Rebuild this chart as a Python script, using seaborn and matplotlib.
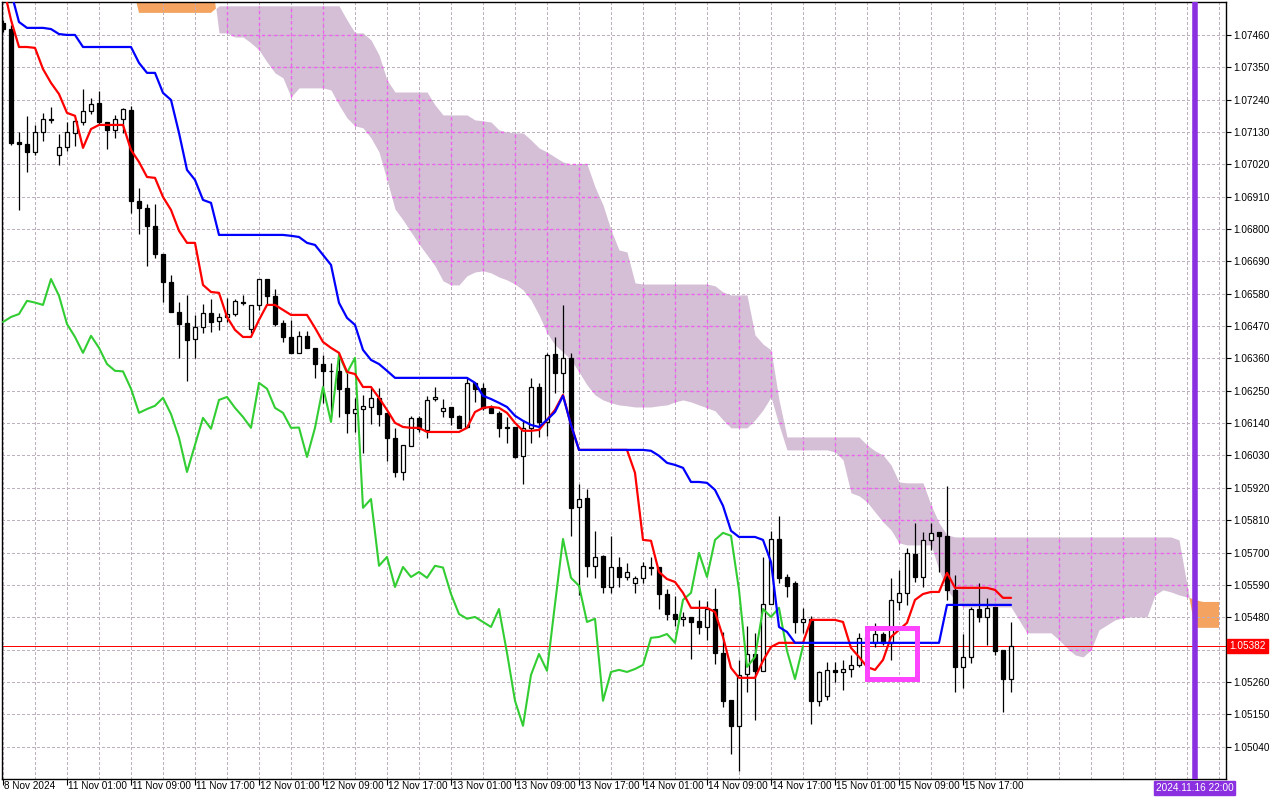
import numpy as np
import matplotlib
matplotlib.use("Agg")
import matplotlib.pyplot as plt
import matplotlib.transforms as mtransforms
from matplotlib.patches import Rectangle
import seaborn as sns

# ---------------- data (hourly bars, 8 Nov 17:00 .. 15 Nov 23:00) ----------------
opens = [1.07501, 1.07480, 1.07096, 1.07089, 1.07062, 1.07130, 1.07171, 1.07052, 1.07079, 1.07127,
         1.07164, 1.07202, 1.07229, 1.07164, 1.07137, 1.07174, 1.07205, 1.06896, 1.06872, 1.06811,
         1.06715, 1.06620, 1.06518, 1.06481, 1.06426, 1.06467, 1.06515, 1.06488, 1.06501, 1.06511,
         1.06552, 1.06460, 1.06542, 1.06630, 1.06573, 1.06481, 1.06433, 1.06379, 1.06437, 1.06396,
         1.06341, 1.06318, 1.06318, 1.06260, 1.06175, 1.06188, 1.06195, 1.06226, 1.06175, 1.06090,
         1.05974, 1.06063, 1.06158, 1.06117, 1.06222, 1.06182, 1.06195, 1.06165, 1.06127, 1.06277,
         1.06260, 1.06192, 1.06175, 1.06127, 1.06127, 1.06029, 1.06124, 1.06263, 1.06144, 1.06375,
         1.06311, 1.06362, 1.05855, 1.05886, 1.05655, 1.05689, 1.05583, 1.05651, 1.05617, 1.05597,
         1.05614, 1.05651, 1.05651, 1.05559, 1.05491, 1.05475, 1.05481, 1.05468, 1.05447, 1.05508,
         1.05359, 1.05199, 1.05111, 1.05287, 1.05355, 1.05298, 1.05525, 1.05746, 1.05617, 1.05597,
         1.05464, 1.05475, 1.05196, 1.05213, 1.05301, 1.05294, 1.05304, 1.05318, 1.05403, 1.05393,
         1.05423, 1.05393, 1.05532, 1.05563, 1.05695, 1.05617, 1.05743, 1.05770, 1.05757, 1.05573,
         1.05311, 1.05345, 1.05508, 1.05481, 1.05515, 1.05369, 1.05270]
highs = [1.07511, 1.07494, 1.07130, 1.07185, 1.07154, 1.07195, 1.07215, 1.07123, 1.07164, 1.07174,
         1.07276, 1.07246, 1.07270, 1.07164, 1.07188, 1.07212, 1.07219, 1.06940, 1.06885, 1.06885,
         1.06715, 1.06644, 1.06552, 1.06576, 1.06508, 1.06545, 1.06562, 1.06515, 1.06566, 1.06562,
         1.06576, 1.06542, 1.06630, 1.06630, 1.06596, 1.06491, 1.06491, 1.06454, 1.06454, 1.06396,
         1.06372, 1.06345, 1.06375, 1.06311, 1.06226, 1.06236, 1.06260, 1.06260, 1.06175, 1.06124,
         1.06066, 1.06165, 1.06165, 1.06233, 1.06263, 1.06222, 1.06195, 1.06168, 1.06297, 1.06280,
         1.06277, 1.06202, 1.06182, 1.06161, 1.06127, 1.06151, 1.06294, 1.06277, 1.06379, 1.06433,
         1.06542, 1.06379, 1.05933, 1.05916, 1.05774, 1.05692, 1.05757, 1.05685, 1.05665, 1.05621,
         1.05668, 1.05685, 1.05651, 1.05576, 1.05553, 1.05498, 1.05481, 1.05539, 1.05536, 1.05580,
         1.05430, 1.05199, 1.05335, 1.05451, 1.05427, 1.05685, 1.05774, 1.05825, 1.05627, 1.05604,
         1.05512, 1.05485, 1.05298, 1.05328, 1.05328, 1.05335, 1.05352, 1.05427, 1.05437, 1.05461,
         1.05430, 1.05614, 1.05641, 1.05716, 1.05801, 1.05770, 1.05801, 1.05770, 1.05927, 1.05624,
         1.05423, 1.05515, 1.05597, 1.05546, 1.05515, 1.05369, 1.05464]
lows = [1.07470, 1.07086, 1.06865, 1.06994, 1.07052, 1.07100, 1.07161, 1.07018, 1.07066, 1.07083,
        1.07154, 1.07191, 1.07154, 1.07072, 1.07110, 1.07127, 1.06855, 1.06783, 1.06675, 1.06702,
        1.06552, 1.06518, 1.06362, 1.06284, 1.06362, 1.06447, 1.06450, 1.06457, 1.06484, 1.06505,
        1.06542, 1.06447, 1.06525, 1.06542, 1.06471, 1.06416, 1.06379, 1.06379, 1.06396, 1.06294,
        1.06209, 1.06161, 1.06161, 1.06107, 1.06110, 1.06039, 1.06137, 1.06131, 1.06012, 1.05957,
        1.05947, 1.06063, 1.06110, 1.06090, 1.06216, 1.06161, 1.06134, 1.06124, 1.06127, 1.06212,
        1.06185, 1.06175, 1.06093, 1.06073, 1.06022, 1.05933, 1.06073, 1.06093, 1.06097, 1.06243,
        1.06243, 1.05757, 1.05556, 1.05617, 1.05614, 1.05563, 1.05563, 1.05583, 1.05607, 1.05563,
        1.05597, 1.05624, 1.05508, 1.05471, 1.05451, 1.05451, 1.05338, 1.05423, 1.05403, 1.05321,
        1.05175, 1.05015, 1.04958, 1.05226, 1.05131, 1.05298, 1.05525, 1.05597, 1.05549, 1.05427,
        1.05427, 1.05117, 1.05179, 1.05199, 1.05260, 1.05233, 1.05277, 1.05311, 1.05386, 1.05379,
        1.05386, 1.05335, 1.05505, 1.05522, 1.05600, 1.05583, 1.05709, 1.05634, 1.05539, 1.05226,
        1.05240, 1.05325, 1.05464, 1.05386, 1.05352, 1.05158, 1.05226]
closes = [1.07480, 1.07093, 1.07089, 1.07062, 1.07130, 1.07174, 1.07174, 1.07079, 1.07130, 1.07168,
          1.07202, 1.07225, 1.07164, 1.07137, 1.07174, 1.07208, 1.06896, 1.06872, 1.06811, 1.06715,
          1.06620, 1.06518, 1.06477, 1.06423, 1.06467, 1.06515, 1.06484, 1.06501, 1.06511, 1.06556,
          1.06550, 1.06542, 1.06630, 1.06573, 1.06477, 1.06433, 1.06379, 1.06437, 1.06396, 1.06341,
          1.06318, 1.06316, 1.06257, 1.06175, 1.06188, 1.06199, 1.06226, 1.06171, 1.06090, 1.05974,
          1.06066, 1.06158, 1.06121, 1.06219, 1.06229, 1.06192, 1.06161, 1.06124, 1.06277, 1.06257,
          1.06192, 1.06175, 1.06124, 1.06125, 1.06025, 1.06124, 1.06263, 1.06144, 1.06372, 1.06311,
          1.06362, 1.05852, 1.05882, 1.05655, 1.05685, 1.05583, 1.05651, 1.05617, 1.05634, 1.05614,
          1.05655, 1.05649, 1.05559, 1.05491, 1.05475, 1.05481, 1.05464, 1.05447, 1.05508, 1.05359,
          1.05196, 1.05111, 1.05284, 1.05355, 1.05298, 1.05525, 1.05746, 1.05614, 1.05587, 1.05464,
          1.05475, 1.05196, 1.05294, 1.05301, 1.05294, 1.05304, 1.05318, 1.05410, 1.05413, 1.05423,
          1.05393, 1.05539, 1.05563, 1.05699, 1.05617, 1.05743, 1.05767, 1.05757, 1.05573, 1.05311,
          1.05345, 1.05508, 1.05481, 1.05512, 1.05366, 1.05270, 1.05382]

tenkan = [1.07630, 1.07511, 1.07419, 1.07419, 1.07416, 1.07344, 1.07297, 1.07259, 1.07195, 1.07185,
          1.07076, 1.07140, 1.07154, 1.07154, 1.07154, 1.07154, 1.07069, 1.07028, 1.06977, 1.06974,
          1.06909, 1.06865, 1.06794, 1.06753, 1.06753, 1.06610, 1.06586, 1.06583, 1.06501, 1.06457,
          1.06433, 1.06433, 1.06491, 1.06542, 1.06542, 1.06525, 1.06508, 1.06508, 1.06508, 1.06464,
          1.06416, 1.06396, 1.06379, 1.06314, 1.06307, 1.06263, 1.06263, 1.06226, 1.06185, 1.06141,
          1.06127, 1.06124, 1.06124, 1.06110, 1.06110, 1.06110, 1.06110, 1.06110, 1.06124, 1.06178,
          1.06192, 1.06195, 1.06192, 1.06175, 1.06141, 1.06114, 1.06114, 1.06117, 1.06151, 1.06185,
          1.06236, 1.06134, 1.06049, 1.06049, 1.06049, 1.06049, 1.06049, 1.06049, 1.06049, 1.05971,
          1.05743, 1.05740, 1.05634, 1.05610, 1.05600, 1.05563, 1.05512, 1.05512, 1.05512, 1.05498,
          1.05413, 1.05308, 1.05274, 1.05274, 1.05274, 1.05332, 1.05379, 1.05393, 1.05393, 1.05393,
          1.05393, 1.05471, 1.05471, 1.05471, 1.05471, 1.05464, 1.05376, 1.05345, 1.05311, 1.05301,
          1.05335, 1.05413, 1.05437, 1.05461, 1.05539, 1.05559, 1.05566, 1.05566, 1.05631, 1.05580,
          1.05580, 1.05580, 1.05580, 1.05580, 1.05573, 1.05546, 1.05546]
kijun = [1.07647, 1.07606, 1.07504, 1.07484, 1.07484, 1.07484, 1.07480, 1.07463, 1.07460, 1.07460,
         1.07419, 1.07419, 1.07419, 1.07419, 1.07419, 1.07419, 1.07419, 1.07365, 1.07331, 1.07331,
         1.07263, 1.07239, 1.07127, 1.07001, 1.06967, 1.06899, 1.06889, 1.06780, 1.06780, 1.06780,
         1.06780, 1.06780, 1.06780, 1.06780, 1.06780, 1.06780, 1.06777, 1.06773, 1.06753, 1.06746,
         1.06712, 1.06678, 1.06549, 1.06498, 1.06474, 1.06389, 1.06355, 1.06341, 1.06318, 1.06294,
         1.06294, 1.06294, 1.06294, 1.06294, 1.06294, 1.06294, 1.06294, 1.06294, 1.06294, 1.06277,
         1.06233, 1.06222, 1.06209, 1.06195, 1.06165, 1.06148, 1.06134, 1.06127, 1.06151, 1.06178,
         1.06233, 1.06134, 1.06049, 1.06049, 1.06049, 1.06049, 1.06049, 1.06049, 1.06049, 1.06049,
         1.06049, 1.06046, 1.06029, 1.06005, 1.05998, 1.05988, 1.05940, 1.05940, 1.05937, 1.05913,
         1.05859, 1.05774, 1.05753, 1.05753, 1.05753, 1.05743, 1.05668, 1.05447, 1.05430, 1.05393,
         1.05393, 1.05393, 1.05393, 1.05393, 1.05393, 1.05393, 1.05393, 1.05393, 1.05393, 1.05393,
         1.05393, 1.05393, 1.05393, 1.05393, 1.05393, 1.05393, 1.05393, 1.05393, 1.05522, 1.05522,
         1.05522, 1.05522, 1.05522, 1.05522, 1.05522, 1.05522, 1.05522]

# Senkou spans, already shifted 26 bars forward (153 positions)
span_a = [1.07681, 1.07681, 1.07681, 1.07681, 1.07681, 1.07681, 1.07681, 1.07681, 1.07681, 1.07681,
          1.07681, 1.07681, 1.07681, 1.07681, 1.07681, 1.07681, 1.07681, 1.07681, 1.07681, 1.07681,
          1.07681, 1.07681, 1.07681, 1.07681, 1.07681, 1.07681, 1.07681, 1.07467, 1.07467, 1.07453,
          1.07453, 1.07433, 1.07409, 1.07368, 1.07331, 1.07314, 1.07249, 1.07280, 1.07280, 1.07280,
          1.07280, 1.07273, 1.07222, 1.07178, 1.07151, 1.07144, 1.07110, 1.07062, 1.06967, 1.06868,
          1.06831, 1.06790, 1.06749, 1.06712, 1.06675, 1.06624, 1.06610, 1.06610, 1.06641, 1.06654,
          1.06658, 1.06651, 1.06637, 1.06627, 1.06613, 1.06593, 1.06559, 1.06508, 1.06447, 1.06406,
          1.06382, 1.06355, 1.06314, 1.06270, 1.06236, 1.06219, 1.06209, 1.06202, 1.06199, 1.06195,
          1.06195, 1.06195, 1.06199, 1.06202, 1.06212, 1.06219, 1.06212, 1.06202, 1.06192, 1.06182,
          1.06151, 1.06124, 1.06124, 1.06124, 1.06151, 1.06185, 1.06229, 1.06134, 1.06049, 1.06049,
          1.06049, 1.06049, 1.06049, 1.06049, 1.06042, 1.06015, 1.05903, 1.05893, 1.05872, 1.05838,
          1.05804, 1.05777, 1.05733, 1.05726, 1.05726, 1.05726, 1.05726, 1.05641, 1.05573, 1.05539,
          1.05515, 1.05515, 1.05515, 1.05515, 1.05515, 1.05515, 1.05515, 1.05471, 1.05427, 1.05427,
          1.05427, 1.05427, 1.05403, 1.05376, 1.05352, 1.05345, 1.05369, 1.05437, 1.05454, 1.05471,
          1.05478, 1.05481, 1.05481, 1.05481, 1.05556, 1.05573, 1.05566, 1.05556, 1.05549, 1.05539,
          1.05532, 1.05532, 1.05532]
span_b = [1.07647, 1.07647, 1.07647, 1.07647, 1.07647, 1.07647, 1.07647, 1.07647, 1.07647, 1.07647,
          1.07647, 1.07647, 1.07647, 1.07647, 1.07647, 1.07647, 1.07647, 1.07535, 1.07535, 1.07535,
          1.07535, 1.07535, 1.07535, 1.07535, 1.07535, 1.07535, 1.07535, 1.07559, 1.07559, 1.07559,
          1.07559, 1.07559, 1.07559, 1.07559, 1.07559, 1.07559, 1.07559, 1.07559, 1.07559, 1.07559,
          1.07559, 1.07559, 1.07559, 1.07511, 1.07467, 1.07467, 1.07443, 1.07392, 1.07307, 1.07266,
          1.07266, 1.07266, 1.07266, 1.07266, 1.07222, 1.07188, 1.07188, 1.07188, 1.07188, 1.07171,
          1.07168, 1.07164, 1.07137, 1.07130, 1.07127, 1.07127, 1.07103, 1.07076, 1.07062, 1.07045,
          1.07028, 1.07021, 1.07021, 1.07021, 1.06943, 1.06882, 1.06797, 1.06729, 1.06722, 1.06617,
          1.06613, 1.06613, 1.06613, 1.06613, 1.06613, 1.06613, 1.06613, 1.06613, 1.06613, 1.06607,
          1.06586, 1.06576, 1.06576, 1.06576, 1.06440, 1.06409, 1.06389, 1.06219, 1.06093, 1.06093,
          1.06093, 1.06093, 1.06093, 1.06093, 1.06093, 1.06093, 1.06093, 1.06093, 1.06066, 1.06046,
          1.06032, 1.05998, 1.05940, 1.05937, 1.05937, 1.05937, 1.05862, 1.05801, 1.05760, 1.05753,
          1.05753, 1.05753, 1.05753, 1.05753, 1.05753, 1.05753, 1.05753, 1.05753, 1.05753, 1.05753,
          1.05753, 1.05753, 1.05753, 1.05753, 1.05753, 1.05753, 1.05753, 1.05753, 1.05753, 1.05753,
          1.05753, 1.05753, 1.05753, 1.05753, 1.05753, 1.05753, 1.05753, 1.05743, 1.05590, 1.05444,
          1.05444, 1.05444, 1.05444]

date_tick_bars = [0, 8, 16, 24, 32, 40, 48, 56, 64, 72, 80, 88, 96, 104, 112, 120]
date_tick_labels = ["8 Nov 2024", "11 Nov 01:00", "11 Nov 09:00", "11 Nov 17:00", "12 Nov 01:00",
                    "12 Nov 09:00", "12 Nov 17:00", "13 Nov 01:00", "13 Nov 09:00", "13 Nov 17:00",
                    "14 Nov 01:00", "14 Nov 09:00", "14 Nov 17:00", "15 Nov 01:00", "15 Nov 09:00",
                    "15 Nov 17:00"]
price_ticks = [1.07460, 1.07350, 1.07240, 1.07130, 1.07020, 1.06910, 1.06800, 1.06690, 1.06580,
               1.06470, 1.06360, 1.06250, 1.06140, 1.06030, 1.05920, 1.05810, 1.05700, 1.05590,
               1.05480, 1.05370, 1.05260, 1.05150, 1.05040]
current_price = 1.05382
current_price_label = "1.05382"
vline_label = "2024.11.16 22:00"
chikou_shift = 26

# ---------------- styling ----------------
sns.set_style("white")
plt.rcParams['font.family'] = ['Liberation Sans', 'DejaVu Sans']

W, H = 1280, 800
fig = plt.figure(figsize=(W / 100, H / 100), dpi=100)
ax = fig.add_axes([2 / W, 21 / H, 1224 / W, 777 / H])

n = len(opens)
idx = np.arange(n)
o = np.array(opens); c = np.array(closes); hi = np.array(highs); lo = np.array(lows)
xc = np.arange(len(span_a))
sa = np.array(span_a); sb = np.array(span_b)

PINK = "#d4bfd6"
ORANGE = "#f4a460"
GRID = "#bfb0bf"
GRID_IN_CLOUD = "#f060f0"
dash = (0, (3, 3))

# cloud
ax.fill_between(xc, sa, sb, where=sb >= sa, interpolate=True, color=PINK, lw=0, zorder=0.5)
ax.fill_between(xc, sa, sb, where=sa > sb, interpolate=True, color=ORANGE, lw=0, zorder=0.5)

# plain dashed grid
grid_x = np.arange(0, len(span_a) + 1, 4)
for gx in grid_x:
    ax.axvline(gx, color=GRID, lw=0.7, ls=dash, zorder=0.8, antialiased=False)
for gy in price_ticks:
    ax.axhline(gy, color=GRID, lw=0.7, ls=dash, zorder=0.8, antialiased=False)

# grid segments crossing the (bearish) cloud appear magenta
xf = np.linspace(0, len(xc) - 1, 6000)
saf = np.interp(xf, xc, sa)
sbf = np.interp(xf, xc, sb)
for gy in price_ticks:
    inside = (saf <= gy) & (sbf >= gy)
    if not inside.any():
        continue
    d = np.diff(np.concatenate([[0], inside.astype(int), [0]]))
    starts = np.where(d == 1)[0]
    ends = np.where(d == -1)[0] - 1
    for s_, e_ in zip(starts, ends):
        ax.plot([xf[s_], xf[e_]], [gy, gy], color=GRID_IN_CLOUD, lw=1.0, ls=(0, (2.2, 2.2)),
                zorder=0.9, solid_capstyle="butt", dash_capstyle="butt")
for gx in grid_x:
    if gx < len(xc) and sb[gx] > sa[gx]:
        ax.plot([gx, gx], [sa[gx], sb[gx]], color=GRID_IN_CLOUD, lw=1.0, ls=(0, (2.2, 2.2)),
                zorder=0.9, solid_capstyle="butt", dash_capstyle="butt")

# current price line
ax.axhline(current_price, color="red", lw=0.7, zorder=1.0, antialiased=False)

# candles
ax.vlines(idx, lo, hi, color="black", lw=0.9, zorder=2)
bull = c >= o
body_h = np.maximum(np.abs(c - o), 0.000012)
body_b = np.minimum(o, c)
ax.bar(idx[bull], body_h[bull], bottom=body_b[bull], width=0.62, color="white",
       edgecolor="black", linewidth=0.9, zorder=2.2)
ax.bar(idx[~bull], body_h[~bull], bottom=body_b[~bull], width=0.62, color="black",
       edgecolor="black", linewidth=0.9, zorder=2.2)

# ichimoku lines via seaborn
sns.lineplot(x=idx[:n - chikou_shift], y=c[chikou_shift:], ax=ax, color="#32cd32",
             lw=1.5, estimator=None, sort=False, zorder=3)
sns.lineplot(x=idx, y=np.array(tenkan), ax=ax, color="#ff0000", lw=1.6,
             estimator=None, sort=False, zorder=3.1)
sns.lineplot(x=idx, y=np.array(kijun), ax=ax, color="#0000ff", lw=1.6,
             estimator=None, sort=False, zorder=3.2)

# highlight box and time marker
ax.add_patch(Rectangle((108.06, 1.05269), 6.13, 0.00173, fill=False,
                       edgecolor="#ff44ff", lw=3.6, zorder=4))
vline_pos = 148.94
ax.axvline(vline_pos, color="#8b30e0", lw=4.0, zorder=4)

# limits
ax.set_xlim(-0.125, 152.875)
ax.set_ylim(1.04930, 1.07572)
ax.set_xlabel("")
ax.set_ylabel("")

for s in ax.spines.values():
    s.set_color("black")
    s.set_linewidth(1.0)
    s.set_visible(True)

# y axis on the right (the 1.05370 label sits under the current-price tag)
ax.yaxis.tick_right()
ax.set_yticks(price_ticks)
ax.set_yticklabels(["" if abs(p - current_price) < 0.0003 else f"{p:.5f}" for p in price_ticks])
ax.tick_params(axis="y", which="both", right=True, left=False, labelright=True,
               labelleft=False, length=3.5, width=0.8, pad=1.5, labelsize=7.2, colors="black")

# x axis ticks (labels left-aligned at tick)
ax.set_xticks(date_tick_bars)
ax.set_xticklabels([])
ax.tick_params(axis="x", which="both", bottom=True, length=4, width=0.8, colors="black")
bt = mtransforms.blended_transform_factory(ax.transData, ax.transAxes)
for b, lab in zip(date_tick_bars, date_tick_labels):
    ax.annotate(lab, xy=(b, 0), xycoords=bt, xytext=(0.5, -1.5), textcoords="offset points",
                ha="left", va="top", fontsize=7.2, color="black", annotation_clip=False)

# current price tag on the right
rt = mtransforms.blended_transform_factory(ax.transAxes, ax.transData)
ax.annotate(current_price_label, xy=(1, current_price), xycoords=rt, xytext=(2.5, 0),
            textcoords="offset points", ha="left", va="center", fontsize=7.2, color="white",
            bbox=dict(boxstyle="square,pad=0.2", fc="#ff0000", ec="#ff0000"),
            annotation_clip=False, zorder=10)

# time marker tag
ax.annotate(vline_label, xy=(vline_pos, 0), xycoords=bt, xytext=(0, -3),
            textcoords="offset points", ha="center", va="top", fontsize=7.2, color="white",
            bbox=dict(boxstyle="square,pad=0.2", fc="#8b30e0", ec="#8b30e0"),
            annotation_clip=False, zorder=10)

fig.savefig("out.png", dpi=100, facecolor="white")
